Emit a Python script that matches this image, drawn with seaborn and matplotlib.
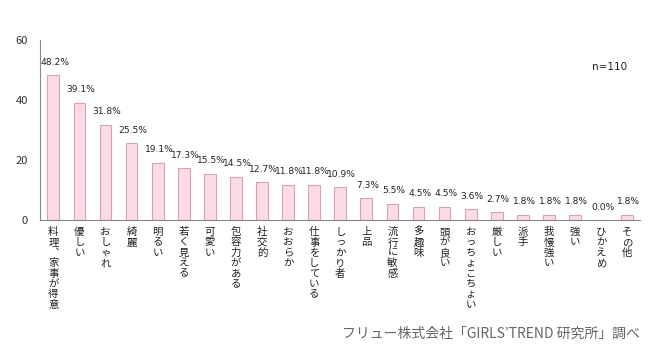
import seaborn as sns
import pandas as pd
import matplotlib.pyplot as plt

# データ
categories = ['料理、家事が得意', '優しい', 'おしゃれ', '綺麗', '明るい', '若く見える', '可愛い',
              '包容力がある', '社交的', 'おおらか', '仕事をしている', 'しっかり者', '上品',
              '流行に敏感', '多趣味', '頭が良い', 'おっちょこちょい', '厳しい', '派手',
              '我慢強い', '強い', 'ひかえめ', 'その他']
values = [48.2, 39.1, 31.8, 25.5, 19.1, 17.3, 15.5, 14.5, 12.7, 11.8, 11.8, 10.9, 7.3,
          5.5, 4.5, 4.5, 3.6, 2.7, 1.8, 1.8, 1.8, 0.0, 1.8]
y_ticks = [0, 20, 40, 60]
sample_note = 'n=110'
source_note = 'フリュー株式会社「GIRLS’TREND 研究所」調べ'

sns.set_style('white')
plt.rcParams['font.family'] = ['Noto Sans CJK JP', 'DejaVu Sans']

df = pd.DataFrame({'category': categories, 'value': values})

fig = plt.figure(figsize=(6.5, 3.59), dpi=100)
ax = fig.add_axes([0.062, 0.387, 0.923, 0.502])

sns.barplot(ax=ax, data=df, x='category', y='value', color='#fbdbe5',
            edgecolor='#d9a3b5', linewidth=0.8, width=0.45, saturation=1)

ax.set_xlim(-0.5, len(categories) - 0.5)
ax.set_ylim(0, 60)
ax.set_yticks(y_ticks)
ax.tick_params(axis='y', labelsize=8, length=3, color='#888888', labelcolor='#333333', pad=6)


def tategaki(s):
    # 縦書き用に読点を縦書き形に置き換える
    return '\n'.join(s.replace('、', '︑'))


ax.set_xticks(range(len(categories)))
ax.set_xticklabels([tategaki(c) for c in categories], fontsize=7.5,
                   linespacing=1.05, va='top', ha='center', multialignment='center',
                   color='#222222')
ax.tick_params(axis='x', which='major', length=0, pad=5)
ax.set_xticks([i - 0.5 for i in range(len(categories) + 1)], minor=True)
ax.tick_params(axis='x', which='minor', length=3, color='#888888', direction='out')

for side in ['top', 'right']:
    ax.spines[side].set_visible(False)
for side in ['left', 'bottom']:
    ax.spines[side].set_color('#888888')
    ax.spines[side].set_linewidth(0.8)

# 値ラベル
for i, v in enumerate(values):
    ax.annotate(f'{v:.1f}%', (i, v), xytext=(1, 6), textcoords='offset points',
                ha='center', va='bottom', fontsize=6.6, family='DejaVu Sans', color='#222222')

ax.set_xlabel('')
ax.set_ylabel('')

ax.text(0.92, 0.83, sample_note, transform=ax.transAxes, fontsize=7.5,
        family='DejaVu Sans', ha='left', color='#222222')
fig.text(0.985, 0.06, source_note, ha='right', fontsize=10, color='#666666')

plt.savefig('out.png', dpi=100)
